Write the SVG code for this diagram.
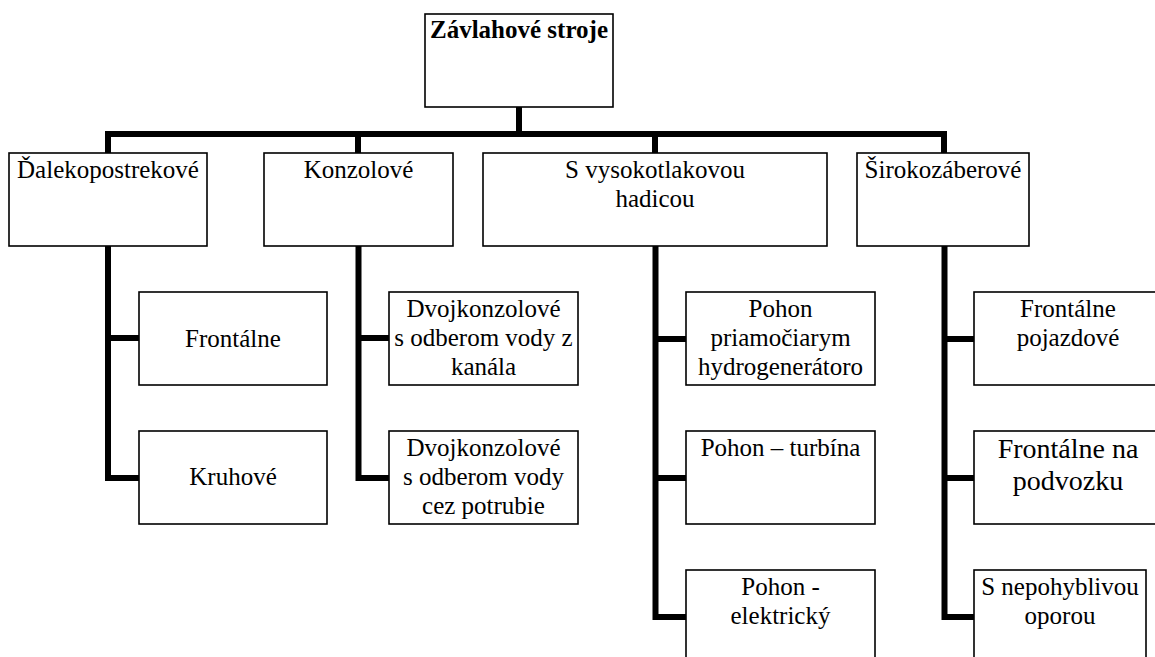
<svg xmlns="http://www.w3.org/2000/svg" width="1155" height="657" viewBox="0 0 1155 657">
<style>
.box{fill:#fff;stroke:#000;stroke-width:1.6}
text{font-family:'Liberation Serif','Times New Roman',Times,'DejaVu Serif',serif;font-size:25px;fill:#000;text-anchor:middle}
.b{font-weight:bold}
.big{font-size:28px}
.c{fill:none;stroke:#000;stroke-width:6;stroke-linejoin:miter;stroke-linecap:butt}
</style>
<rect width="1155" height="657" fill="#fff"/>
<g id="connectors">
<path class="c" d="M519 107 V134"/>
<path class="c" d="M108 153 V134 H944 V153"/>
<path class="c" d="M358 134 V153"/>
<path class="c" d="M655 134 V153"/>
<path class="c" d="M108 246 V478 H139 M108 338 H139"/>
<path class="c" d="M358.5 246 V478 H389 M358.5 338 H389"/>
<path class="c" d="M655.5 246 V617 H686 M655.5 339 H686 M655.5 478 H686"/>
<path class="c" d="M944.5 246 V617 H974 M944.5 339 H974 M944.5 478 H974"/>
</g>
<g id="root">
<rect class="box" x="425" y="14" width="188" height="93"/>
<text class="b" x="519" y="38" font-family="Liberation Serif, serif">Závlahové stroje</text>
</g>
<g id="dalekopostrekove">
<rect class="box" x="9" y="153" width="198" height="93"/>
<text x="108" y="178">Ďalekopostrekové</text>
</g>
<g id="konzolove">
<rect class="box" x="264" y="153" width="189" height="93"/>
<text x="358.5" y="178">Konzolové</text>
</g>
<g id="vysokotlakova">
<rect class="box" x="483" y="153" width="344" height="93"/>
<text x="655" y="178">S vysokotlakovou</text>
<text x="655" y="207">hadicou</text>
</g>
<g id="sirokozaberove">
<rect class="box" x="857" y="153" width="172" height="93"/>
<text x="943" y="178">Širokozáberové</text>
</g>
<g id="frontalne">
<rect class="box" x="139" y="292" width="188" height="93"/>
<text x="233" y="347">Frontálne</text>
</g>
<g id="kruhove">
<rect class="box" x="139" y="431" width="188" height="93"/>
<text x="233" y="485">Kruhové</text>
</g>
<g id="dvoj-kanal">
<rect class="box" x="389" y="292" width="189" height="93"/>
<text x="483.5" y="317">Dvojkonzolové</text>
<text x="483.5" y="346">s odberom vody z</text>
<text x="483.5" y="375">kanála</text>
</g>
<g id="dvoj-potrubie">
<rect class="box" x="389" y="431" width="189" height="93"/>
<text x="483.5" y="456">Dvojkonzolové</text>
<text x="483.5" y="485">s odberom vody</text>
<text x="483.5" y="514">cez potrubie</text>
</g>
<g id="pohon-hydro">
<rect class="box" x="686" y="292" width="189" height="93"/>
<text x="780.5" y="317">Pohon</text>
<text x="780.5" y="346">priamočiarym</text>
<text x="780.5" y="375">hydrogenerátoro</text>
</g>
<g id="pohon-turbina">
<rect class="box" x="686" y="431" width="189" height="93"/>
<text x="780.5" y="456">Pohon – turbína</text>
</g>
<g id="pohon-elektricky">
<rect class="box" x="686" y="570" width="189" height="93"/>
<text x="780.5" y="595">Pohon -</text>
<text x="780.5" y="624">elektrický</text>
</g>
<g id="frontalne-pojazdove">
<rect class="box" x="974" y="292" width="188" height="93"/>
<text x="1068" y="317">Frontálne</text>
<text x="1068" y="346">pojazdové</text>
</g>
<g id="frontalne-podvozok">
<rect class="box" x="974" y="431" width="188" height="93"/>
<text class="big" x="1068" y="458">Frontálne na</text>
<text class="big" x="1068" y="490">podvozku</text>
</g>
<g id="nepohybliva-opora">
<rect class="box" x="974" y="570" width="172" height="93"/>
<text x="1060" y="595">S nepohyblivou</text>
<text x="1060" y="624">oporou</text>
</g>
</svg>
